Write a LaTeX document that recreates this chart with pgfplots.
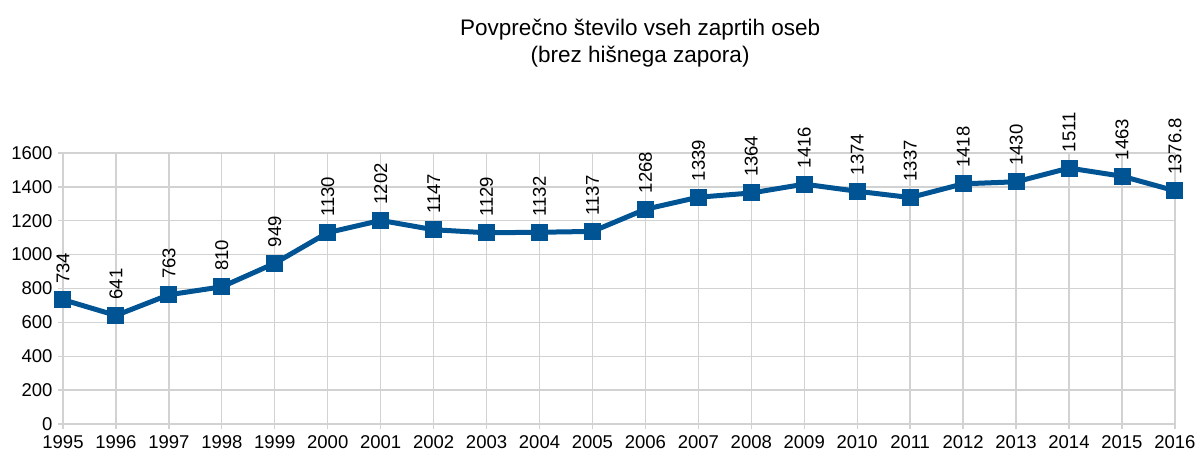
\documentclass[border=0pt]{standalone}
\usepackage{fontspec}
\setmainfont{Liberation Sans}
\usepackage{pgfplots}
\pgfplotsset{compat=1.18}
\definecolor{linec}{RGB}{0,84,147}
\definecolor{gridc}{RGB}{210,210,210}
\begin{document}
\begin{tikzpicture}
\begin{axis}[
  scale only axis,
  width=1112pt, height=271pt,
  xmin=1995, xmax=2016, ymin=0, ymax=1600,
  xtick={1995,...,2016}, ytick={0,200,...,1600},
  /pgf/number format/assume math mode=true,
  /pgf/number format/1000 sep={},
  xticklabel style={font=\fontsize{18.5}{20}\selectfont, /pgf/number format/1000 sep={}, yshift=-3pt},
  yticklabel style={font=\fontsize{18.5}{20}\selectfont, xshift=-2pt},
  grid=major,
  major grid style={gridc, line width=1.3pt},
  axis line style={draw=none},
  tick style={gridc, line width=1.3pt},
  tick align=outside,
  major tick length=5pt,
  xtick pos=bottom, ytick pos=left,
  clip=false,
  nodes near coords,
  point meta=explicit symbolic,
  every node near coord/.append style={rotate=90, anchor=west, inner sep=0pt, outer xsep=16pt, font=\fontsize{18.5}{20}\selectfont, text=black},
]
\addplot[color=linec, line width=5pt, mark=square*, mark size=8pt, mark options={fill=linec, line width=0pt}] coordinates {
(1995,734) [734]
(1996,641) [641]
(1997,763) [763]
(1998,810) [810]
(1999,949) [949]
(2000,1130) [1130]
(2001,1202) [1202]
(2002,1147) [1147]
(2003,1129) [1129]
(2004,1132) [1132]
(2005,1137) [1137]
(2006,1268) [1268]
(2007,1339) [1339]
(2008,1364) [1364]
(2009,1416) [1416]
(2010,1374) [1374]
(2011,1337) [1337]
(2012,1418) [1418]
(2013,1430) [1430]
(2014,1511) [1511]
(2015,1463) [1463]
(2016,1376.8) [1376.8]
};
\node[align=center, font=\fontsize{22.5}{27}\selectfont, anchor=center] at ([yshift=110pt]rel axis cs:0.519,1) {Povprečno število vseh zaprtih oseb\\(brez hišnega zapora)};
\end{axis}
\pgfresetboundingbox
\path (current axis.south west) ++(-63pt,-29pt) rectangle ++(1198pt,453pt);
\end{tikzpicture}
\end{document}
